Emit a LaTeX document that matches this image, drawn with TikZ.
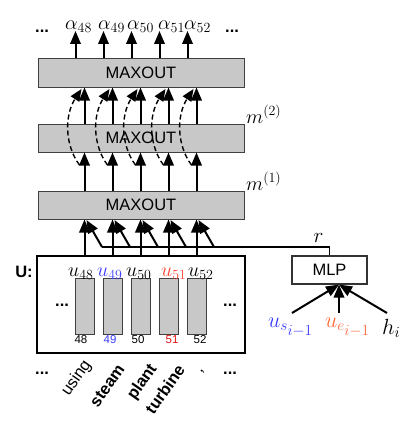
\documentclass[tikz,border=0pt]{standalone}
\usepackage{fix-cm}
\usepackage[no-math]{fontspec}
\setmainfont{Liberation Sans}
\usetikzlibrary{arrows.meta,calc}
\definecolor{boxgray}{RGB}{200,200,200}
\definecolor{ublue}{RGB}{60,60,255}
\definecolor{ured}{RGB}{255,70,50}
\definecolor{nred}{RGB}{230,20,20}
\definecolor{uorange}{RGB}{255,105,60}
\begin{document}
\begin{tikzpicture}[x=1pt,y=-1pt,
  layer/.style={draw=black!75,fill=boxgray,line width=1pt,minimum width=206pt,minimum height=28pt,inner sep=0pt,font=\fontsize{16.5}{19}\selectfont},
  cell/.style={draw=black!75,fill=boxgray,line width=1pt,minimum width=19pt,minimum height=56pt,inner sep=0pt},
  arr/.style={line width=2pt,-{Triangle[length=13pt,width=10.5pt]}},
  darr/.style={line width=1.4pt,dash pattern=on 5pt off 3pt,-{Triangle[length=12pt,width=10pt]}},
  plain/.style={line width=1.8pt},
  mlab/.style={inner sep=0pt,font=\fontsize{20}{24}\selectfont},
  blab/.style={inner sep=0pt,anchor=base west,font=\fontsize{22}{26}\selectfont},
  sans/.style={inner sep=0pt,font=\fontsize{16.5}{19}\selectfont},
  num/.style={inner sep=0pt,font=\fontsize{11.5}{13}\selectfont},
  word/.style={inner sep=0pt,rotate=55,anchor=east,font=\fontsize{16.5}{19}\selectfont},
  dots/.style={inner sep=0pt,anchor=base west,font=\fontsize{16.5}{19}\selectfont\bfseries}]
\useasboundingbox (0,0) rectangle (415,436);

% layers
\node[layer] (top) at (141,73) {MAXOUT};
\node[layer] (mid) at (141,138) {MAXOUT};
\node[layer] (low) at (141,205) {MAXOUT};
\node[draw=black,line width=1.3pt,minimum width=208pt,minimum height=97pt,inner sep=0pt] (ubox) at (141,304.5) {};
\node[draw=black!80,line width=1.2pt,minimum width=75pt,minimum height=28pt,inner sep=0pt,font=\fontsize{16.5}{19}\selectfont] (mlp) at (329.5,270) {MLP};

% columns
\foreach \i in {0,...,4}{
  \coordinate (c\i) at (84.5+28*\i,0);
  \coordinate (a\i) at (75.5+28*\i,31);
  \node[cell] (cell\i) at (84.5+28*\i,306) {};
}

% alpha labels
\node[dots] (dl) at (35,33) {...};
\node[dots] (dr) at (225,33) {...};
\node[mlab,anchor=base west] (al0) at (65,30) {$\alpha_{48}$};
\node[mlab,anchor=base west] (al1) at (98,30) {$\alpha_{49}$};
\node[mlab,anchor=base west] (al2) at (127,30) {$\alpha_{50}$};
\node[mlab,anchor=base west] (al3) at (158,30) {$\alpha_{51}$};
\node[mlab,anchor=base west] (al4) at (184,30) {$\alpha_{52}$};

\node[mlab,anchor=base west] (m2) at (246,123) {$m^{(2)}$};
\node[mlab,anchor=base west] (m1) at (246,190) {$m^{(1)}$};

% arrows
\foreach \i in {0,...,4}{
  \draw[arr] (top.north -| a\i) -- (a\i);
  \draw[arr] (mid.north -| c\i) -- (top.south -| c\i);
  \draw[arr] (low.north -| c\i) -- (mid.south -| c\i);
  \draw[arr] (ubox.north -| c\i) -- (low.south -| c\i);
  \coordinate (ds\i) at ($(c\i)+(-5,165)$);
  \coordinate (de\i) at ($(c\i)+(-3,89)$);
  \draw[darr] (ds\i) .. controls ($(c\i)+(-20,145)$) and ($(c\i)+(-20,115)$) .. (de\i);
}

% r line
\coordinate (rs) at (102,247);
\coordinate (rt) at (mlp.north |- rs);
\draw[plain] (rs) -- (rt) -- (mlp.north);
\node[mlab,anchor=base,font=\fontsize{21}{25}\selectfont] (rlab) at (318.5,242) {$r$};
\foreach \i in {0,...,4}{
  \coordinate (rb\i) at ($(rs)+(28*\i,0)$);
  \coordinate (rtip\i) at ($(c\i)+(2,220)$);
  \draw[arr] (rb\i) -- (rtip\i);
}

% U labels
\node[sans,font=\fontsize{16.5}{19}\selectfont\bfseries] (ulab) at (24,272) {U:};
\node[mlab,anchor=base west] (u0) at (68,276) {$u_{48}$};
\node[mlab,anchor=base west,text=ublue] (u1) at (97,276) {$u_{49}$};
\node[mlab,anchor=base west] (u2) at (126,276) {$u_{50}$};
\node[mlab,anchor=base west,text=ured] (u3) at (161,276) {$u_{51}$};
\node[mlab,anchor=base west] (u4) at (188,276) {$u_{52}$};
\node[dots] (ud1) at (55,306) {...};
\node[dots] (ud2) at (223,306) {...};
\node[num] (n0) at (81,340) {48};
\node[num,text=ublue] (n1) at (110,340) {49};
\node[num] (n2) at (138,340) {50};
\node[num,text=nred] (n3) at (172,340) {51};
\node[num] (n4) at (200,340) {52};

% words
\node[dots] (wd1) at (35,374) {...};
\node[dots] (wd2) at (223,374) {...};
\node[word] (w0) at (88,362) {using};
\node[word,font=\fontsize{16.5}{19}\selectfont\bfseries] (w1) at (121,366) {steam};
\node[word,font=\fontsize{16.5}{19}\selectfont\bfseries] (w2) at (154,366) {plant};
\node[word,font=\fontsize{16.5}{19}\selectfont\bfseries] (w3) at (181,366) {turbine};
\node[word] (w4) at (204,370) {,};

% MLP inputs
\coordinate (mi) at ($(mlp.south)+(9.5,0)$);
\coordinate (s0) at (292,313);
\coordinate (s1) at (339,313);
\coordinate (s2) at (387,313);
\draw[arr] (s0) -- (mi);
\draw[arr] (s1) -- (mi);
\draw[arr] (s2) -- (mi);
\node[blab,text=ublue] (us) at (268,327) {$u_{s_{\scriptstyle i-1}}$};
\node[blab,text=uorange] (ue) at (325,327) {$u_{e_{\scriptstyle i-1}}$};
\node[blab] (hi) at (382,334) {$h_i$};
\end{tikzpicture}
\end{document}
